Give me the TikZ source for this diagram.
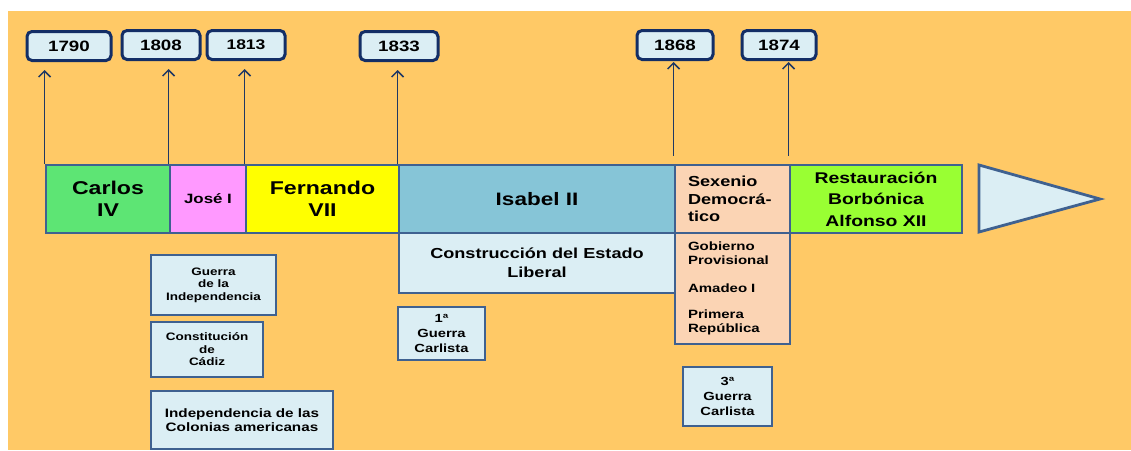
\documentclass[tikz,border=0pt]{standalone}
\usepackage{fontspec}
\usetikzlibrary{arrows.meta}
\newfontfamily\tlsans{Liberation Sans}[FakeStretch=1.25]

\definecolor{bgorange}{HTML}{FFC966}
\definecolor{paleblue}{HTML}{DBEEF4}
\definecolor{yearline}{HTML}{132E66}
\definecolor{arrowline}{HTML}{1F3864}
\definecolor{boxline}{HTML}{3F6190}
\definecolor{carlosgreen}{HTML}{5DE574}
\definecolor{josepink}{HTML}{FF99FF}
\definecolor{fernandoyellow}{HTML}{FFFF00}
\definecolor{isabelblue}{HTML}{86C5D7}
\definecolor{sexeniopeach}{HTML}{FBD4B4}
\definecolor{restlime}{HTML}{99FF33}

\newcommand\reignfont{\tlsans\bfseries\fontsize{18.5}{22}\selectfont}
\newcommand\yearfont{\tlsans\bfseries\fontsize{15}{18}\selectfont}

\begin{document}
\begin{tikzpicture}[x=1pt,y=-1pt,
  yearbox/.style={draw=yearline,fill=paleblue,line width=3pt,rounded corners=5pt,inner sep=0pt,minimum height=29pt,font=\yearfont},
  reignbox/.style={draw=boxline,line width=2.8pt,inner sep=0pt,minimum height=68pt,align=center,font=\reignfont},
  notebox/.style={draw=boxline,fill=paleblue,line width=2.8pt,inner sep=0pt,align=center},
  yeararrow/.style={draw=arrowline,line width=1.5pt,-{Straight Barb[length=6pt,width=12pt]}}]
\useasboundingbox (0,0) rectangle (1131,450);
\fill [white] (0,0) rectangle (1131,450);
\fill [bgorange] (8,11) rectangle (1131,450);

% reigns
\node [reignbox,fill=carlosgreen,minimum width=124pt] (carlos) at (108,199) {Carlos\\IV};
\node [reignbox,fill=josepink,minimum width=76pt,font=\tlsans\bfseries\fontsize{13.5}{16}\selectfont] (jose) at (208,199) {José I};
\node [reignbox,fill=fernandoyellow,minimum width=153pt] (fernando) at (322.5,199) {Fernando\\VII};
\node [reignbox,fill=isabelblue,minimum width=276pt,font=\tlsans\bfseries\fontsize{18}{22}\selectfont] (isabel) at (537,199) {Isabel II};
\node [reignbox,fill=sexeniopeach,minimum width=115pt,text width=89pt,inner xsep=13pt,align=left,font=\tlsans\bfseries\fontsize{14.5}{17.5}\selectfont] (sexenio) at (732.5,199) {Sexenio\\Democrá-\\tico};
\node [reignbox,fill=restlime,minimum width=172pt,font=\tlsans\bfseries\fontsize{15.5}{21.5}\selectfont] (restaur) at (876,199) {Restauración\\Borbónica\\Alfonso XII};
\draw [boxline,line width=2.8pt,fill=paleblue,line join=miter] (979,165) -- (979,232) -- (1100,199) -- cycle;

% years
\node [yearbox,minimum width=84pt] (y1790) at (69,46) {1790};
\node [yearbox,minimum width=78pt] (y1808) at (161,45) {1808};
\node [yearbox,minimum width=78pt,font=\tlsans\bfseries\fontsize{14}{17}\selectfont] (y1813) at (246,45) {1813};
\node [yearbox,minimum width=78pt] (y1833) at (399,46) {1833};
\node [yearbox,minimum width=76pt] (y1868) at (675,45) {1868};
\node [yearbox,minimum width=74pt] (y1874) at (779,45) {1874};

\draw [yeararrow,shorten >=8pt] (carlos.north west) -- (carlos.north west |- y1790.south);
\draw [yeararrow,shorten >=8pt] (jose.north west) -- (jose.north west |- y1808.south);
\draw [yeararrow,shorten >=8pt] (fernando.north west) -- (fernando.north west |- y1813.south);
\draw [yeararrow,shorten >=8pt] (isabel.north west) -- (isabel.north west |- y1833.south);
\draw [yeararrow,shorten <=8pt,shorten >=1pt] (sexenio.north west) -- (sexenio.north west |- y1868.south);
\draw [yeararrow,shorten <=8pt,shorten >=1pt] (restaur.north west) -- (restaur.north west |- y1874.south);

% events
\node [notebox,minimum width=276pt,minimum height=60pt,font=\tlsans\bfseries\fontsize{14.5}{19}\selectfont] (estado) at (537,263) {Construcción del Estado\\Liberal};
\node [notebox,fill=sexeniopeach,minimum width=115pt,minimum height=111pt,text width=89pt,inner xsep=13pt,align=left,font=\tlsans\bfseries\fontsize{12}{14}\selectfont] (gobiernos) at (732.5,288.5) {Gobierno\\Provisional\\[14pt]Amadeo I\\[12pt]Primera\\República};
\node [notebox,minimum width=125pt,minimum height=60pt,font=\tlsans\bfseries\fontsize{10.8}{12.5}\selectfont] (guerraind) at (213.5,285) {Guerra\\de la\\Independencia};
\node [notebox,minimum width=112pt,minimum height=55pt,font=\tlsans\bfseries\fontsize{10.8}{12.5}\selectfont] (cadiz) at (207,349.5) {Constitución\\de\\Cádiz};
\node [notebox,minimum width=182pt,minimum height=58pt,font=\tlsans\bfseries\fontsize{12.2}{14}\selectfont] (colonias) at (242,420) {Independencia de las\\Colonias americanas};
\node [notebox,minimum width=87pt,minimum height=53pt,font=\tlsans\bfseries\fontsize{11.8}{15}\selectfont] (carlista1) at (441.5,333.5) {1ª\\Guerra\\Carlista};
\node [notebox,minimum width=89pt,minimum height=59pt,font=\tlsans\bfseries\fontsize{11.8}{15}\selectfont] (carlista3) at (727.5,396.5) {3ª\\Guerra\\Carlista};
\end{tikzpicture}
\end{document}
